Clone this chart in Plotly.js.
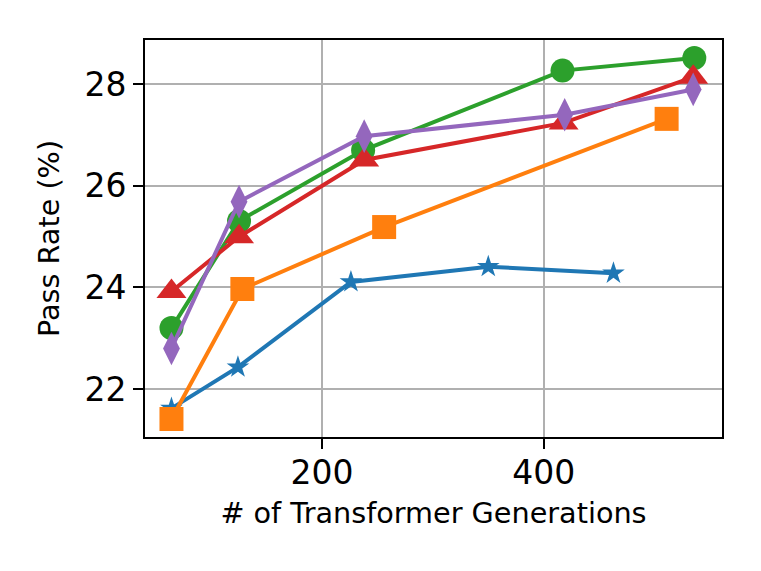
<!DOCTYPE html>
<html>
<head>
<meta charset="utf-8">
<script src="https://cdn.plot.ly/plotly-3.0.1.min.js"></script>
<style>html,body{margin:0;padding:0;background:#fff;}#chart{width:761px;height:571px;}</style>
</head>
<body>
<div id="chart"></div>
<script>
// Data
const blueX = [64, 124, 226, 350, 463];
const blueY = [21.62, 22.43, 24.11, 24.41, 24.28];
const orangeX = [64, 128, 256, 511];
const orangeY = [21.41, 23.97, 25.19, 27.32];
const greenX = [64, 125, 237, 417, 536];
const greenY = [23.2, 25.31, 26.7, 28.27, 28.52];
const redX = [64, 125, 238, 418, 535];
const redY = [23.92, 25.0, 26.51, 27.24, 28.14];
const purpleX = [64, 125, 238, 419, 535];
const purpleY = [22.8, 25.69, 26.98, 27.4, 27.9];

const xTicks = [200, 400];
const yTicks = [22, 24, 26, 28];

const font = "DejaVu Sans, sans-serif";

function trace(x, y, color, symbol, size) {
  return {
    x: x, y: y, type: 'scatter', mode: 'lines+markers',
    line: {color: color, width: 4},
    marker: {color: color, symbol: symbol, size: size, line: {width: 0}},
    showlegend: false, cliponaxis: false
  };
}

const data = [
  trace(blueX, blueY, '#1f77b4', 'star', 17),
  trace(orangeX, orangeY, '#ff7f0e', 'square', 24),
  trace(greenX, greenY, '#2ca02c', 'circle', 24),
  trace(redX, redY, '#d62728', 'triangle-up', 26),
  trace(purpleX, purpleY, '#9467bd', 'diamond-tall', 24)
];

const axisCommon = {
  showline: true, mirror: true, linecolor: '#000', linewidth: 2,
  showgrid: true, gridcolor: '#b0b0b0', gridwidth: 2,
  ticks: 'outside', ticklen: 10, tickwidth: 2, tickcolor: '#000',
  zeroline: false, tickmode: 'array',
  tickfont: {family: font, size: 33, color: '#000'}
};

const layout = {
  width: 761, height: 571,
  margin: {l: 145, r: 39, t: 40, b: 134, pad: 0},
  paper_bgcolor: '#fff', plot_bgcolor: '#fff',
  xaxis: Object.assign({}, axisCommon, {
    range: [40.1, 561], tickvals: xTicks, ticktext: xTicks.map(String),
    ticklabelstandoff: -5,
    title: {text: '# of Transformer Generations', font: {family: font, size: 28.7, color: '#000'}, standoff: 12}
  }),
  yaxis: Object.assign({}, axisCommon, {
    range: [21.056, 28.873], tickvals: yTicks, ticktext: yTicks.map(String),
    title: {text: 'Pass Rate (%)', font: {family: font, size: 28.7, color: '#000'}, standoff: 16}
  })
};

Plotly.newPlot('chart', data, layout, {displayModeBar: false, staticPlot: true});
</script>
</body>
</html>
